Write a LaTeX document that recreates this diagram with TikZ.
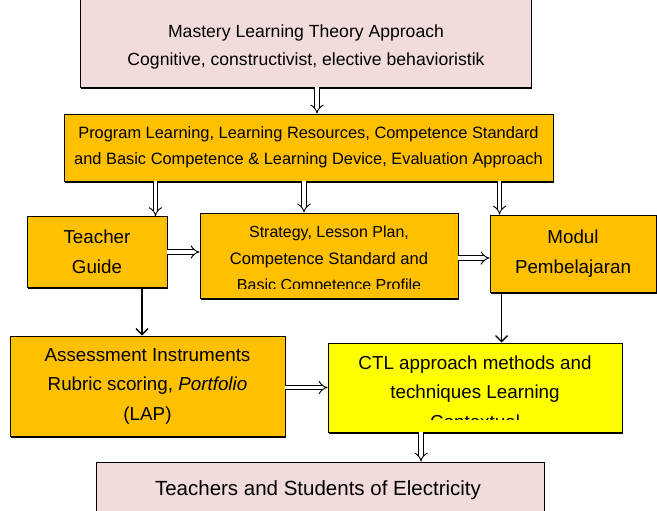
\documentclass[tikz,border=0pt]{standalone}
\usepackage{fontspec}
\setmainfont{Liberation Sans}
\usetikzlibrary{arrows.meta,calc,shadows}

\definecolor{boxpink}{HTML}{F2DCDB}
\definecolor{boxorange}{HTML}{FFC000}
\definecolor{boxyellow}{HTML}{FFFF00}

\tikzset{
  card/.style={draw=black, line width=0.9pt, inner sep=0pt, align=center,
    drop shadow={shadow xshift=1.3pt, shadow yshift=-1.6pt, opacity=1, fill=black}},
  pinkcard/.style={card, fill=boxpink},
  orangecard/.style={card, fill=boxorange},
  yellowcard/.style={card, fill=boxyellow},
  label/.style={inner sep=0pt, align=center},
  big/.style={font=\fontsize{17.6}{27.5}\selectfont},
  large/.style={font=\fontsize{18.8}{29.5}\selectfont},
  mid/.style={font=\fontsize{16.4}{26}\selectfont},
  hollow/.style={double=white, double distance=3.8pt, line width=0.9pt,
    -{Implies[scale=1.45]}},
  thinarrow/.style={line width=1.4pt, -{Straight Barb[length=6pt, width=12pt]}},
}

\begin{document}
\begin{tikzpicture}[x=1pt, y=-1pt]
\useasboundingbox (0,0) rectangle (657,511);

% theory box (top edge runs off the page)
\node[pinkcard, minimum width=451pt, minimum height=92pt] (theory) at (305.5,41) {};
\node[label, big] (theorytext) at (306,47)
  {Mastery Learning Theory Approach\\ Cognitive, constructivist, elective behavioristik};

% program / resources box
\node[orangecard, minimum width=489pt, minimum height=67pt, mid] (prog) at (308.5,147.5)
  {Program Learning, Learning Resources, Competence Standard\\
   and Basic Competence \& Learning Device, Evaluation Approach};

% third row
\node[orangecard, minimum width=140pt, minimum height=71pt, large] (teach) at (97,252)
  {Teacher\\ Guide};
\node[orangecard, minimum width=258pt, minimum height=85pt] (strat) at (329,255.5) {};
\begin{scope}
  \clip (strat.north west) rectangle ([yshift=10pt]strat.south east);
  \node[label, font=\fontsize{16}{26.5}\selectfont] (strattext) at (329,260)
    {Strategy, Lesson Plan,\\
     {\fontsize{16.6}{26.5}\selectfont Competence Standard and}\\
     {\fontsize{16}{26.5}\selectfont Basic Competence Profile}};
\end{scope}
\node[orangecard, minimum width=166pt, minimum height=77pt, large] (modul) at (573,253.5)
  {Modul\\ Pembelajaran};

% fourth row
\node[orangecard, minimum width=275pt, minimum height=100pt, large] (assess) at (147.5,386)
  {Assessment Instruments\\ Rubric scoring, \textit{Portfolio}\\ (LAP)};
\node[yellowcard, minimum width=294pt, minimum height=89pt] (ctl) at (475,387.5) {};
\begin{scope}
  \clip (ctl.north west) rectangle ([yshift=13pt]ctl.south east);
  \node[label, large] (ctltext) at (475,392)
    {CTL approach methods and\\ techniques Learning\\ Contextual};
\end{scope}

% bottom box (bottom edge runs off the page)
\node[pinkcard, minimum width=448pt, minimum height=60pt] (users) at (320,492) {};
\node[label, font=\fontsize{20.5}{24}\selectfont] (userstext) at (318,490)
  {Teachers and Students of Electricity};

% connectors
\draw[hollow] ([xshift=11.5pt]theory.south) -- ([xshift=11.5pt]theory.south |- prog.north);
\draw[hollow] ([xshift=-12pt]teach.north east |- prog.south) -- ([xshift=-12pt]teach.north east);
\draw[hollow] ([xshift=-25pt]strat.north |- prog.south) -- ([xshift=-25pt]strat.north);
\draw[hollow] ([xshift=10pt]modul.north west |- prog.south) -- ([xshift=10pt]modul.north west);
\draw[hollow] (teach.east) -- (strat.west |- teach.east);
\draw[hollow] ([yshift=-2.5pt]strat.east) -- ([yshift=-2.5pt]strat.east -| modul.west);
\draw[hollow] (assess.east |- ctl.west) -- (ctl.west);
\draw[hollow] ([xshift=-54pt]ctl.south) -- ([xshift=-54pt]ctl.south |- users.north);
\draw[thinarrow] ([xshift=45pt]teach.south) -- ([xshift=45pt]teach.south |- assess.north);
\draw[thinarrow] ([xshift=12pt]modul.south west) -- ([xshift=12pt]modul.south west |- ctl.north);
\end{tikzpicture}
\end{document}
